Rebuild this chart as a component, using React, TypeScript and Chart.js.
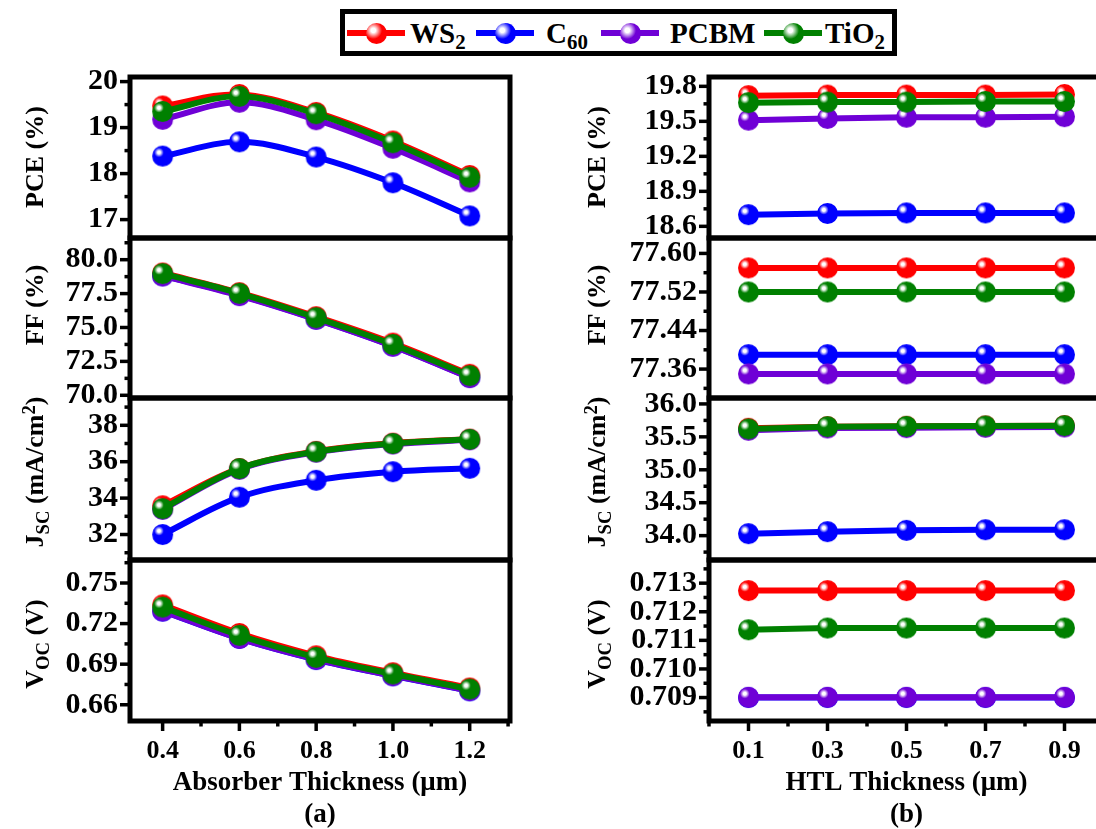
import React, { useEffect, useRef } from 'react';
import { Chart, registerables } from 'chart.js';

Chart.register(...registerables);

// ---------- DATA ----------
const seriesColors = ['#ff0000', '#0000ff', '#6f00d6', '#008000'];

const absorberThickness = [0.4, 0.6, 0.8, 1.0, 1.2];
const htlThickness = [0.1, 0.3, 0.5, 0.7, 0.9];

const absorberTicks = [0.4, 0.6, 0.8, 1.0, 1.2];
const htlTicks = [0.1, 0.3, 0.5, 0.7, 0.9];

// (a) Absorber thickness sweep
const pceAbsWS2 = [19.47, 19.72, 19.33, 18.71, 17.96];
const pceAbsC60 = [18.38, 18.69, 18.36, 17.8, 17.08];
const pceAbsPCBM = [19.18, 19.55, 19.17, 18.55, 17.82];
const pceAbsTiO2 = [19.35, 19.68, 19.3, 18.67, 17.92];

const ffAbsWS2 = [79.02, 77.57, 75.8, 73.85, 71.55];
const ffAbsC60 = [78.82, 77.39, 75.62, 73.64, 71.32];
const ffAbsPCBM = [78.8, 77.35, 75.6, 73.62, 71.3];
const ffAbsTiO2 = [78.97, 77.52, 75.72, 73.75, 71.45];

const jscAbsWS2 = [33.58, 35.63, 36.57, 37.02, 37.24];
const jscAbsC60 = [32.0, 34.05, 34.98, 35.45, 35.64];
const jscAbsPCBM = [33.38, 35.58, 36.52, 36.97, 37.2];
const jscAbsTiO2 = [33.42, 35.62, 36.55, 37.0, 37.23];

const vocAbsWS2 = [0.7338, 0.7127, 0.6962, 0.6837, 0.6724];
const vocAbsC60 = [0.7292, 0.709, 0.6934, 0.6814, 0.6703];
const vocAbsPCBM = [0.7294, 0.709, 0.6936, 0.6815, 0.6705];
const vocAbsTiO2 = [0.7322, 0.7113, 0.695, 0.6827, 0.6716];

// (b) HTL thickness sweep
const pceHtlWS2 = [19.72, 19.725, 19.725, 19.725, 19.73];
const pceHtlC60 = [18.7, 18.71, 18.715, 18.715, 18.715];
const pceHtlPCBM = [19.51, 19.525, 19.535, 19.535, 19.54];
const pceHtlTiO2 = [19.66, 19.665, 19.665, 19.67, 19.67];

const ffHtlWS2 = [77.57, 77.57, 77.57, 77.57, 77.57];
const ffHtlC60 = [77.39, 77.39, 77.39, 77.39, 77.39];
const ffHtlPCBM = [77.35, 77.35, 77.35, 77.35, 77.35];
const ffHtlTiO2 = [77.52, 77.52, 77.52, 77.52, 77.52];

const jscHtlWS2 = [35.63, 35.655, 35.66, 35.665, 35.67];
const jscHtlC60 = [34.03, 34.06, 34.08, 34.09, 34.09];
const jscHtlPCBM = [35.6, 35.635, 35.64, 35.645, 35.65];
const jscHtlTiO2 = [35.62, 35.655, 35.66, 35.665, 35.67];

const vocHtlWS2 = [0.71274, 0.71274, 0.71274, 0.71274, 0.71274];
const vocHtlC60 = [0.709, 0.709, 0.709, 0.709, 0.709];
const vocHtlPCBM = [0.70901, 0.70901, 0.70901, 0.70901, 0.70901];
const vocHtlTiO2 = [0.71137, 0.71143, 0.71143, 0.71143, 0.71143];

// y tick labels
const pceAbsTicks = [17, 18, 19, 20];
const ffAbsTicks = [70.0, 72.5, 75.0, 77.5, 80.0];
const jscAbsTicks = [32, 34, 36, 38];
const vocAbsTicks = [0.66, 0.69, 0.72, 0.75];
const pceHtlTicks = [18.6, 18.9, 19.2, 19.5, 19.8];
const ffHtlTicks = [77.36, 77.44, 77.52, 77.6];
const jscHtlTicks = [34.0, 34.5, 35.0, 35.5, 36.0];
const vocHtlTicks = [0.709, 0.71, 0.711, 0.712, 0.713];

// ---------- STYLE / LAYOUT ----------
const FONT = "'Liberation Serif', 'Times New Roman', Times, serif";
const Y_TICK_SIZE = 30;
const X_TICK_SIZE = 26;
const Y_TITLE_SIZE = 26;
const X_TITLE_SIZE = 27;
const PANEL_TOPS = [77, 238, 398, 560];
const PANEL_BOTTOMS = [238, 398, 560, 721];
const FIG_BOTTOM = 831;
const Y_AXIS_W = 130;

function makeBall(color: string, r: number) {
  const c = document.createElement('canvas');
  const s = Math.ceil(2 * r + 2);
  c.width = s;
  c.height = s;
  const g = c.getContext('2d')!;
  const cx = s / 2;
  const cy = s / 2;
  const hx = cx - r * 0.35;
  const hy = cy - r * 0.35;
  const grad = g.createRadialGradient(hx, hy, 0, hx, hy, r * 1.2);
  grad.addColorStop(0, '#ffffff');
  grad.addColorStop(0.12, '#ffffff');
  grad.addColorStop(0.38, color);
  grad.addColorStop(1, color);
  g.fillStyle = grad;
  g.beginPath();
  g.arc(cx, cy, r, 0, Math.PI * 2);
  g.fill();
  return c;
}

function minorTicks(majors: number[], min: number, max: number) {
  const step = majors[1] - majors[0];
  const out: number[] = [];
  const eps = step * 0.05;
  if (majors[0] - step / 2 >= min - eps) out.push(majors[0] - step / 2);
  for (let i = 0; i < majors.length - 1; i++) out.push((majors[i] + majors[i + 1]) / 2);
  const last = majors[majors.length - 1];
  if (last + step / 2 <= max + eps) out.push(last + step / 2);
  return out;
}

const framePlugin = {
  id: 'frame',
  afterDraw(chart: any, _args: any, opts: any) {
    const { ctx, chartArea: a, scales } = chart;
    ctx.save();
    ctx.strokeStyle = '#000';
    ctx.lineCap = 'butt';
    const line = (x1: number, y1: number, x2: number, y2: number) => {
      ctx.beginPath();
      ctx.moveTo(x1, y1);
      ctx.lineTo(x2, y2);
      ctx.stroke();
    };
    ctx.lineWidth = 3.5;
    const ys = scales.y;
    (opts.yMajor || []).forEach((v: number) => {
      const p = ys.getPixelForValue(v);
      line(a.left - 10, p, a.left, p);
    });
    (opts.yMinor || []).forEach((v: number) => {
      const p = Math.min(Math.max(ys.getPixelForValue(v), a.top), a.bottom);
      line(a.left - 5.5, p, a.left, p);
    });
    if (opts.showX) {
      const xs = scales.x;
      (opts.xMajor || []).forEach((v: number) => {
        const p = xs.getPixelForValue(v);
        line(p, a.bottom, p, a.bottom + 10);
      });
      (opts.xMinor || []).forEach((v: number) => {
        const p = Math.min(Math.max(xs.getPixelForValue(v), a.left), a.right);
        line(p, a.bottom, p, a.bottom + 5.5);
      });
    }
    ctx.lineWidth = 5;
    ctx.strokeRect(a.left, a.top, a.right - a.left, a.bottom - a.top);
    ctx.restore();
  },
};

type PanelCfg = {
  xs: number[];
  xTicks: number[];
  xMin: number;
  xMax: number;
  series: number[][];
  yTicks: number[];
  yMin: number;
  yMax: number;
  yDec: number;
  tension: number;
  row: number;
  chartLeft: number;
  chartRight: number;
  xTitle?: string[];
};

function Panel({ cfg }: { cfg: PanelCfg }) {
  const ref = useRef<HTMLCanvasElement>(null);
  const isBottom = cfg.row === 3;
  const top = PANEL_TOPS[cfg.row];
  const bottom = PANEL_BOTTOMS[cfg.row];
  const canvasLeft = cfg.chartLeft - Y_AXIS_W;
  const canvasTop = top - 8;
  const padBottom = isBottom ? 0 : 8;
  const xAxisH = isBottom ? FIG_BOTTOM - bottom : 0;
  const width = cfg.chartRight + 8 - canvasLeft;
  const height = isBottom ? FIG_BOTTOM - canvasTop : bottom - top + 16;

  useEffect(() => {
    const balls = seriesColors.map((c) => makeBall(c, 10.5));
    const chart = new Chart(ref.current!, {
      type: 'line',
      data: {
        datasets: cfg.series.map((vals, i) => ({
          label: String(i),
          data: cfg.xs.map((x, j) => ({ x, y: vals[j] })),
          borderColor: seriesColors[i],
          backgroundColor: seriesColors[i],
          borderWidth: 6,
          pointStyle: balls[i] as any,
          pointRadius: 10,
          pointBorderWidth: 0,
          tension: cfg.tension,
          order: 4 - i,
          clip: false as any,
        })),
      },
      options: {
        animation: false,
        responsive: false,
        maintainAspectRatio: false,
        events: [],
        layout: { autoPadding: false, padding: { top: 8, right: 8, bottom: padBottom, left: 0 } },
        plugins: {
          legend: { display: false },
          tooltip: { enabled: false },
          frame: {
            yMajor: cfg.yTicks,
            yMinor: minorTicks(cfg.yTicks, cfg.yMin, cfg.yMax),
            xMajor: cfg.xTicks,
            xMinor: minorTicks(cfg.xTicks, cfg.xMin, cfg.xMax),
            showX: isBottom,
          },
        } as any,
        scales: {
          x: {
            type: 'linear',
            min: cfg.xMin,
            max: cfg.xMax,
            display: isBottom,
            grid: { display: false, drawTicks: false },
            border: { display: false },
            ticks: {
              color: '#000',
              font: { family: FONT, size: X_TICK_SIZE, weight: 'bold' },
              padding: 15,
              maxRotation: 0,
              autoSkip: false,
              callback: (v: any) => Number(v).toFixed(1),
            },
            title: {
              display: isBottom,
              text: cfg.xTitle || '',
              color: '#000',
              font: { family: FONT, size: X_TITLE_SIZE, weight: 'bold', lineHeight: '32px' },
              padding: { top: 0, bottom: 0 },
            },
            afterBuildTicks: (s: any) => {
              s.ticks = cfg.xTicks.map((v) => ({ value: v }));
            },
            afterFit: (s: any) => {
              s.height = xAxisH;
              s.paddingLeft = 0;
              s.paddingRight = 0;
            },
          } as any,
          y: {
            type: 'linear',
            min: cfg.yMin,
            max: cfg.yMax,
            grid: { display: false, drawTicks: false },
            border: { display: false },
            ticks: {
              color: '#000',
              font: { family: FONT, size: Y_TICK_SIZE, weight: 'bold' },
              padding: 12,
              autoSkip: false,
              callback: (v: any) => Number(v).toFixed(cfg.yDec),
            },
            afterBuildTicks: (s: any) => {
              s.ticks = cfg.yTicks.map((v) => ({ value: v }));
            },
            afterFit: (s: any) => {
              s.width = Y_AXIS_W;
              s.paddingTop = 0;
              s.paddingBottom = 0;
            },
          } as any,
        },
      },
      plugins: [framePlugin as any],
    });
    return () => chart.destroy();
  }, []);

  return (
    <canvas
      ref={ref}
      width={width}
      height={height}
      style={{ position: 'absolute', left: canvasLeft, top: canvasTop, width, height }}
    />
  );
}

const sub = (t: string) => (
  <span style={{ fontSize: '0.72em', position: 'relative', top: '0.3em' }}>{t}</span>
);
const sup = (t: string) => (
  <span style={{ fontSize: '0.72em', position: 'relative', top: '-0.45em' }}>{t}</span>
);

function YTitle({ x, y, children }: { x: number; y: number; children: any }) {
  return (
    <div
      style={{
        position: 'absolute',
        left: x,
        top: y,
        transform: 'translate(-50%, -50%) rotate(-90deg)',
        whiteSpace: 'nowrap',
        fontFamily: FONT,
        fontWeight: 'bold',
        fontSize: Y_TITLE_SIZE,
        lineHeight: 1,
        color: '#000',
      }}
    >
      {children}
    </div>
  );
}

function Legend() {
  const items = [
    { line: 347, text: 410, label: <>WS{sub('2')}</> },
    { line: 476, text: 546, label: <>C{sub('60')}</> },
    { line: 601, text: 670, label: <>PCBM</> },
    { line: 764, text: 825, label: <>TiO{sub('2')}</> },
  ];
  const cy = 33;
  return (
    <>
      <div
        style={{
          position: 'absolute',
          left: 340,
          top: 9,
          width: 557,
          height: 47,
          border: '5px solid #000',
          boxSizing: 'border-box',
        }}
      />
      {items.map((it, i) => (
        <React.Fragment key={i}>
          <div
            style={{
              position: 'absolute',
              left: it.line,
              top: cy - 3,
              width: 58,
              height: 6,
              background: seriesColors[i],
            }}
          />
          <div
            style={{
              position: 'absolute',
              left: it.line + 29 - 10.5,
              top: cy - 10.5,
              width: 21,
              height: 21,
              borderRadius: '50%',
              background: `radial-gradient(circle at 35% 35%, #fff 0%, #fff 12%, ${seriesColors[i]} 45%, ${seriesColors[i]} 100%)`,
            }}
          />
          <div
            style={{
              position: 'absolute',
              left: it.text,
              top: cy,
              transform: 'translateY(-50%)',
              fontFamily: FONT,
              fontWeight: 'bold',
              fontSize: 29,
              lineHeight: 1,
              whiteSpace: 'nowrap',
              color: '#000',
            }}
          >
            {it.label}
          </div>
        </React.Fragment>
      ))}
    </>
  );
}

const LEFT = { chartLeft: 130, chartRight: 510 };
const RIGHT = { chartLeft: 709, chartRight: 1104 };

const leftPanels: PanelCfg[] = [
  { xs: absorberThickness, xTicks: absorberTicks, xMin: 0.315, xMax: 1.305, series: [pceAbsWS2, pceAbsC60, pceAbsPCBM, pceAbsTiO2], yTicks: pceAbsTicks, yMin: 16.6, yMax: 20.1, yDec: 0, tension: 0.35, row: 0, ...LEFT },
  { xs: absorberThickness, xTicks: absorberTicks, xMin: 0.315, xMax: 1.305, series: [ffAbsWS2, ffAbsC60, ffAbsPCBM, ffAbsTiO2], yTicks: ffAbsTicks, yMin: 69.8, yMax: 81.6, yDec: 1, tension: 0.35, row: 1, ...LEFT },
  { xs: absorberThickness, xTicks: absorberTicks, xMin: 0.315, xMax: 1.305, series: [jscAbsWS2, jscAbsC60, jscAbsPCBM, jscAbsTiO2], yTicks: jscAbsTicks, yMin: 30.6, yMax: 39.5, yDec: 0, tension: 0.35, row: 2, ...LEFT },
  { xs: absorberThickness, xTicks: absorberTicks, xMin: 0.315, xMax: 1.305, series: [vocAbsWS2, vocAbsC60, vocAbsPCBM, vocAbsTiO2], yTicks: vocAbsTicks, yMin: 0.648, yMax: 0.767, yDec: 2, tension: 0.35, row: 3, ...LEFT, xTitle: ['Absorber Thickness (μm)', '(a)'] },
];

const rightPanels: PanelCfg[] = [
  { xs: htlThickness, xTicks: htlTicks, xMin: 0, xMax: 1.0, series: [pceHtlWS2, pceHtlC60, pceHtlPCBM, pceHtlTiO2], yTicks: pceHtlTicks, yMin: 18.5, yMax: 19.88, yDec: 1, tension: 0, row: 0, ...RIGHT },
  { xs: htlThickness, xTicks: htlTicks, xMin: 0, xMax: 1.0, series: [ffHtlWS2, ffHtlC60, ffHtlPCBM, ffHtlTiO2], yTicks: ffHtlTicks, yMin: 77.3, yMax: 77.632, yDec: 2, tension: 0, row: 1, ...RIGHT },
  { xs: htlThickness, xTicks: htlTicks, xMin: 0, xMax: 1.0, series: [jscHtlWS2, jscHtlC60, jscHtlPCBM, jscHtlTiO2], yTicks: jscHtlTicks, yMin: 33.63, yMax: 36.09, yDec: 1, tension: 0, row: 2, ...RIGHT },
  { xs: htlThickness, xTicks: htlTicks, xMin: 0, xMax: 1.0, series: [vocHtlWS2, vocHtlC60, vocHtlPCBM, vocHtlTiO2], yTicks: vocHtlTicks, yMin: 0.70818, yMax: 0.71381, yDec: 3, tension: 0, row: 3, ...RIGHT, xTitle: ['HTL Thickness (μm)', '(b)'] },
];

const TITLE_Y = [157, 305, 472, 644];

export default function App() {
  const titles = [
    <>PCE (%)</>,
    <>FF (%)</>,
    <>J{sub('SC')} (mA/cm{sup('2')})</>,
    <>V{sub('OC')} (V)</>,
  ];
  return (
    <div
      style={{
        position: 'absolute',
        left: 0,
        top: 0,
        width: 1096,
        height: 829,
        overflow: 'hidden',
        background: '#fff',
      }}
    >
      {leftPanels.map((c, i) => (
        <Panel key={'l' + i} cfg={c} />
      ))}
      {rightPanels.map((c, i) => (
        <Panel key={'r' + i} cfg={c} />
      ))}
      {titles.map((t, i) => (
        <YTitle key={'tl' + i} x={35} y={TITLE_Y[i]}>
          {t}
        </YTitle>
      ))}
      {titles.map((t, i) => (
        <YTitle key={'tr' + i} x={597} y={TITLE_Y[i]}>
          {t}
        </YTitle>
      ))}
      <Legend />
    </div>
  );
}
